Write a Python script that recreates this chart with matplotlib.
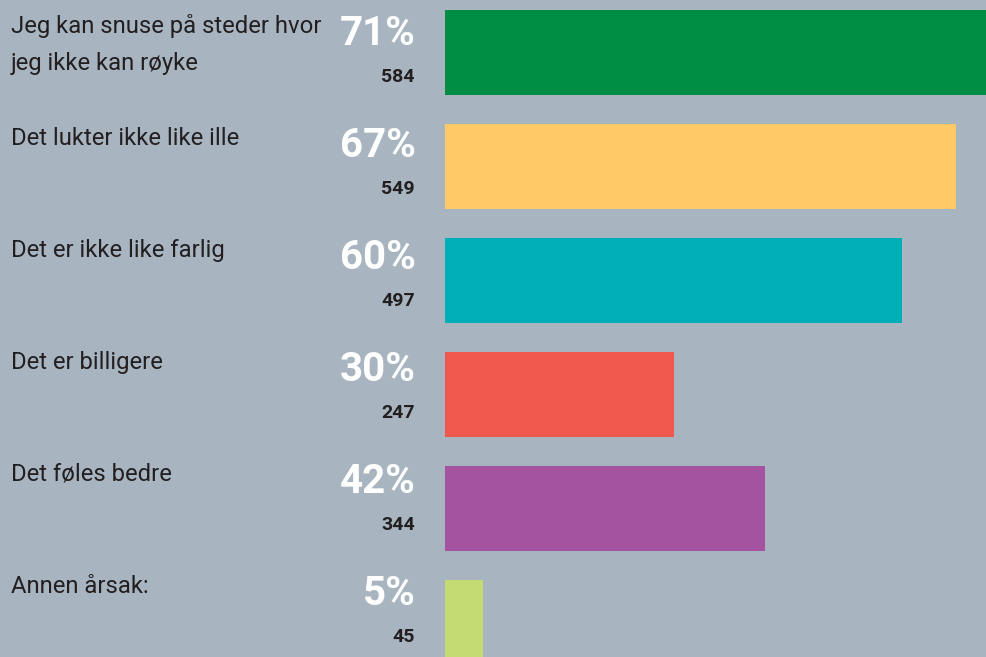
import matplotlib.pyplot as plt

labels = ["Jeg kan snuse på steder hvor\njeg ikke kan røyke",
          "Det lukter ikke like ille",
          "Det er ikke like farlig",
          "Det er billigere",
          "Det føles bedre",
          "Annen årsak:"]
percent = [71, 67, 60, 30, 42, 5]
counts = [584, 549, 497, 247, 344, 45]
colors = ["#008e44", "#ffc966", "#00aeb8", "#f0584c", "#a453a0", "#c3db72"]

bg = "#a8b5c1"
plt.rcParams['font.family'] = ['Roboto', 'DejaVu Sans']

fig = plt.figure(figsize=(9.86, 6.57), dpi=100, facecolor=bg)
W, H = 986, 657
ax = fig.add_axes([445 / W, 0, 541 / W, 1])
ax.set_facecolor(bg)
ax.set_axis_off()

# bars: one row every 114 px, first bar top at 10 px
step = 114.0
ax.set_xlim(0, 71)
ax.set_ylim((H - 52.5) / step, -52.5 / step)

rows = range(len(labels))
ax.barh(list(rows), percent, height=85 / step, color=colors)

# texts: one row every 112 px
tstep = 112.0
for i in rows:
    base = 45 + tstep * i
    for k, line in enumerate(labels[i].split("\n")):
        fig.text(11 / W, 1 - (base - 12 + 37 * k) / H, line,
                 fontsize=17.2, color="#231f20", va="baseline", ha="left")
    fig.text(416 / W, 1 - base / H, f"{percent[i]}%",
             fontsize=29, fontweight="bold", color="white",
             va="baseline", ha="right")
    fig.text(415 / W, 1 - (base + 37) / H, str(counts[i]),
             fontsize=14, fontweight="bold", color="#231f20",
             va="baseline", ha="right")

fig.savefig("out.png", dpi=100, facecolor=bg)
